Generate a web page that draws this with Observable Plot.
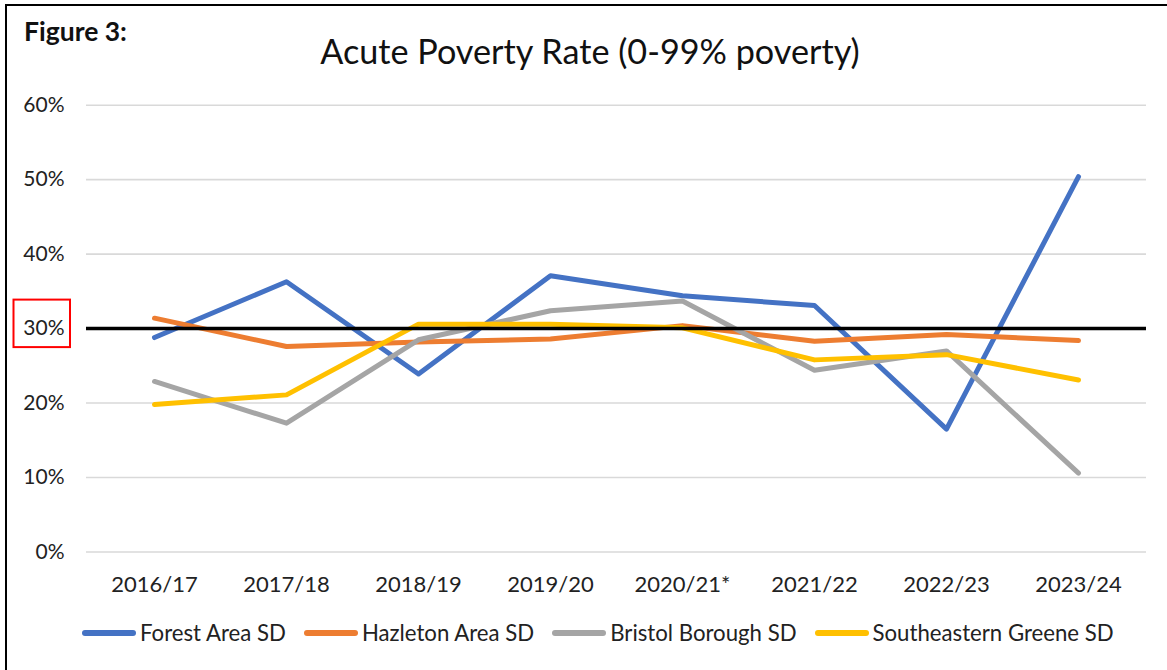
<!DOCTYPE html>
<html>
<head>
<meta charset="utf-8">
<script src="https://cdn.jsdelivr.net/npm/d3@7"></script>
<script src="https://cdn.jsdelivr.net/npm/@observablehq/plot@0.6"></script>
<style>
  html, body { margin: 0; padding: 0; background: #fff; }
  #wrap { position: relative; width: 1167px; height: 670px; background: #fff; overflow: hidden; font-family: Lato, "Open Sans", sans-serif; color: #222; }
  #frame { position: absolute; left: 5px; top: 4px; right: -10px; bottom: -10px; border-top: 2.5px solid #000; border-left: 2px solid #000; }
  #fig { position: absolute; left: 24px; top: 15px; font-weight: bold; font-size: 26.5px; color: #111; }
  #title { position: absolute; left: 0; width: 1180px; top: 30px; text-align: center; font-size: 34.2px; color: #111; }
  #chart { position: absolute; left: 0; top: 0; }
  #legend { position: absolute; top: 619px; left: 82px; display: flex; align-items: center; font-size: 22.2px; color: #222; white-space: nowrap; }
  .item { display: flex; align-items: center; margin-right: 18px; }
  .sw { width: 54px; height: 6px; border-radius: 3px; margin-right: 4px; }
</style>
</head>
<body>
<div id="wrap">
  <div id="frame"></div>
  <div id="fig">Figure 3:</div>
  <div id="title">Acute Poverty Rate (0-99% poverty)</div>
  <div id="chart"></div>
  <div id="legend"></div>
</div>
<script>
const years = ["2016/17", "2017/18", "2018/19", "2019/20", "2020/21*", "2021/22", "2022/23", "2023/24"];
const seriesNames = ["Forest Area SD", "Hazleton Area SD", "Bristol Borough SD", "Southeastern Greene SD"];
const seriesColors = ["#4472C4", "#ED7D31", "#A5A5A5", "#FFC000"];
const forest = [0.288, 0.363, 0.239, 0.371, 0.344, 0.331, 0.165, 0.504];
const hazleton = [0.314, 0.276, 0.282, 0.286, 0.304, 0.283, 0.292, 0.284];
const bristol = [0.229, 0.173, 0.285, 0.324, 0.337, 0.244, 0.270, 0.106];
const greene = [0.198, 0.211, 0.306, 0.306, 0.301, 0.258, 0.265, 0.231];
const yTicks = [0, 0.1, 0.2, 0.3, 0.4, 0.5, 0.6];
const refLine = 0.3;

const seriesValues = [forest, hazleton, bristol, greene];
const data = [];
seriesNames.forEach((s, i) => {
  years.forEach((yr, j) => data.push({series: s, year: yr, value: seriesValues[i][j]}));
});

const chart = Plot.plot({
  width: 1167,
  height: 612,
  marginTop: 104.7,
  marginBottom: 612 - 551.5,
  marginLeft: 86,
  marginRight: 21,
  style: {background: "transparent", fontFamily: "Lato, 'Open Sans', sans-serif", color: "#222"},
  x: {type: "point", domain: years, padding: 0.5, label: null},
  y: {domain: [0, 0.6], label: null},
  color: {domain: seriesNames, range: seriesColors},
  marks: [
    Plot.gridY(yTicks, {stroke: "#D9D9D9", strokeOpacity: 1, strokeWidth: 1.6}),
    Plot.axisY(yTicks, {tickSize: 0, tickPadding: 22, fontSize: 21, tickFormat: d => Math.round(d * 100) + "%", label: null}),
    Plot.axisX({tickSize: 0, tickPadding: 24, fontSize: 22, label: null}),
    Plot.line(data, {x: "year", y: "value", z: "series", stroke: "series", strokeWidth: 5, strokeLinejoin: "round", strokeLinecap: "round"}),
    Plot.ruleY([refLine], {stroke: "#000", strokeWidth: 3.5})
  ]
});
document.getElementById("chart").appendChild(chart);

// red highlight box around the 30% tick label
const yc = chart.scale("y").apply(refLine);
d3.select(chart).append("rect")
  .attr("x", 13.5).attr("y", yc - 28.5)
  .attr("width", 56.5).attr("height", 47.5)
  .attr("fill", "none").attr("stroke", "#FF0000").attr("stroke-width", 2);

// legend
const lg = d3.select("#legend");
seriesNames.forEach((s, i) => {
  const it = lg.append("div").attr("class", "item");
  it.append("div").attr("class", "sw").style("background", seriesColors[i]);
  it.append("span").text(s);
});
</script>
</body>
</html>
